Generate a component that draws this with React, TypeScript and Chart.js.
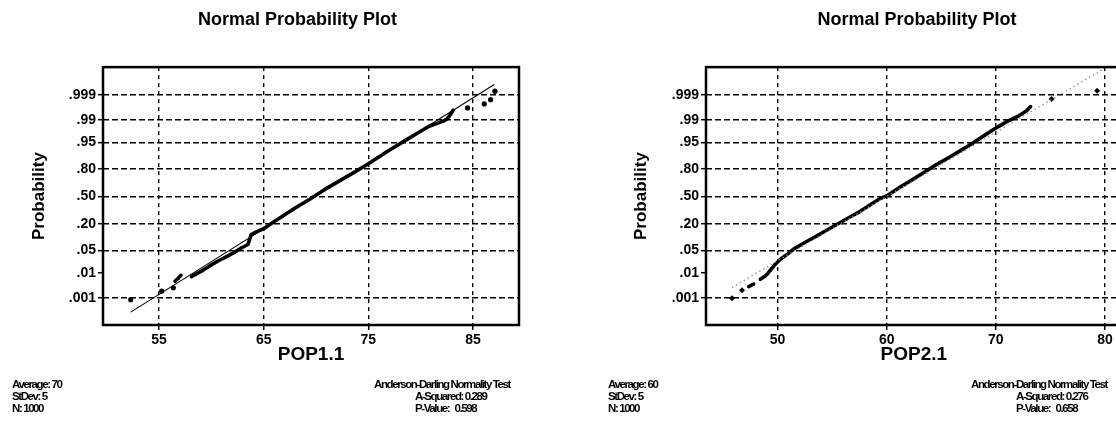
import React, { useEffect, useRef } from 'react';
import { Chart, registerables } from 'chart.js';

Chart.register(...registerables);

// ---------- shared axis data ----------
const probTicks = [0.001, 0.01, 0.05, 0.2, 0.5, 0.8, 0.95, 0.99, 0.999];
const probLabels = ['.001', '.01', '.05', '.20', '.50', '.80', '.95', '.99', '.999'];
const probNoGrid = 0.01;
const titleText = 'Normal Probability Plot';
const yTitle = 'Probability';

// ---------- left panel (POP1.1) ----------
const leftXTicks = [55, 65, 75, 85];
const leftFitX = [52.3, 87.03];
const leftFitZ = [-3.52, 3.41];
const leftRunX = [58.1, 59.0, 59.8, 60.6, 61.5, 62.2, 62.9, 63.5, 63.8, 64.4, 65.0, 65.9, 66.9, 68.0, 69.4, 70.8, 72.2, 73.6, 75.0, 76.8, 78.7, 79.8, 80.8, 81.5, 82.1, 82.5, 82.8, 83.1];
const leftRunZ = [-2.44, -2.28, -2.12, -1.97, -1.82, -1.7, -1.56, -1.46, -1.16, -1.06, -0.98, -0.78, -0.58, -0.35, -0.08, 0.21, 0.47, 0.73, 1.0, 1.37, 1.74, 1.95, 2.14, 2.22, 2.29, 2.36, 2.48, 2.63];
const leftShortX = [56.53, 56.8, 57.1];
const leftShortZ = [-2.58, -2.5, -2.4];
const leftSingleX = [52.3, 55.26, 56.37, 84.48, 86.07, 86.68, 87.09];
const leftSingleZ = [-3.14, -2.88, -2.78, 2.7, 2.82, 2.95, 3.21];
const leftStats = ['Average: 70', 'StDev: 5', 'N: 1000'];
const leftTest = ['Anderson-Darling Normality Test', 'A-Squared: 0.289', 'P-Value:   0.598'];

// ---------- right panel (POP2.1) ----------
const rightXTicks = [50, 60, 70, 80];
const rightFitX = [45.83, 79.83];
const rightFitZ = [-2.77, 3.88];
const rightRunX = [48.42, 48.87, 49.03, 49.79, 50.25, 51.0, 51.46, 52.5, 53.6, 54.7, 55.74, 56.6, 57.57, 58.5, 59.4, 60.0, 61.0, 62.14, 63.4, 64.58, 65.7, 66.72, 67.8, 68.85, 70.07, 71.0, 72.0, 72.82, 73.18];
const rightRunZ = [-2.52, -2.42, -2.37, -2.06, -1.91, -1.73, -1.6, -1.4, -1.2, -0.99, -0.79, -0.63, -0.45, -0.25, -0.06, 0.02, 0.24, 0.47, 0.73, 0.98, 1.19, 1.39, 1.61, 1.84, 2.1, 2.28, 2.44, 2.61, 2.74];
const rightShortX = [47.35, 47.8];
const rightShortZ = [-2.74, -2.67];
const rightSingleX = [45.83, 46.74, 75.1, 79.28];
const rightSingleZ = [-3.1, -2.85, 2.97, 3.22];
const rightStats = ['Average: 60', 'StDev: 5', 'N: 1000'];
const rightTest = ['Anderson-Darling Normality Test', 'A-Squared: 0.276', 'P-Value:   0.658'];

const FONT = '"Liberation Sans", Arial, Helvetica, sans-serif';

// inverse standard normal CDF (Acklam) – used for the probability-axis transform
function probit(p: number): number {
  const a = [-3.969683028665376e1, 2.209460984245205e2, -2.759285104469687e2, 1.38357751867269e2, -3.066479806614716e1, 2.506628277459239];
  const b = [-5.447609879822406e1, 1.615858368580409e2, -1.556989798598866e2, 6.680131188771972e1, -1.328068155288572e1];
  const c = [-7.784894002430293e-3, -3.223964580411365e-1, -2.400758277161838, -2.549732539343734, 4.374664141464968, 2.938163982698783];
  const d = [7.784695709041462e-3, 3.224671290700398e-1, 2.445134137142996, 3.754408661907416];
  const pl = 0.02425;
  if (p < pl) {
    const q = Math.sqrt(-2 * Math.log(p));
    return (((((c[0] * q + c[1]) * q + c[2]) * q + c[3]) * q + c[4]) * q + c[5]) / ((((d[0] * q + d[1]) * q + d[2]) * q + d[3]) * q + 1);
  }
  if (p > 1 - pl) {
    const q = Math.sqrt(-2 * Math.log(1 - p));
    return -(((((c[0] * q + c[1]) * q + c[2]) * q + c[3]) * q + c[4]) * q + c[5]) / ((((d[0] * q + d[1]) * q + d[2]) * q + d[3]) * q + 1);
  }
  const q = p - 0.5;
  const r = q * q;
  return (((((a[0] * r + a[1]) * r + a[2]) * r + a[3]) * r + a[4]) * r + a[5]) * q / (((((b[0] * r + b[1]) * r + b[2]) * r + b[3]) * r + b[4]) * r + 1);
}

type PanelCfg = {
  left: number;
  width: number;
  areaLeft: number;
  areaRightGap: number;
  yTitleCenter: number;
  xTitle: string;
  xMin: number;
  xMax: number;
  zMin: number;
  zMax: number;
  xTicks: number[];
  fitX: number[];
  fitZ: number[];
  fitColor: string;
  fitWidth: number;
  fitDash: number[];
  runs: { x: number[]; z: number[] }[];
  singleX: number[];
  singleZ: number[];
  pointStyle: string;
  pointRadius: number;
};

const boxPlugin = {
  id: 'plotBox',
  afterDatasetsDraw(chart: any) {
    const { ctx, chartArea: a } = chart;
    ctx.save();
    ctx.strokeStyle = '#000';
    ctx.lineWidth = 2.5;
    ctx.strokeRect(a.left, a.top, a.right - a.left, a.bottom - a.top);
    ctx.restore();
  },
};

function Panel({ cfg }: { cfg: PanelCfg }) {
  const ref = useRef<HTMLCanvasElement>(null);
  useEffect(() => {
    const zTicks = probTicks.map(probit);
    const skipZ = probit(probNoGrid);
    const pts = (xs: number[], zs: number[]) => xs.map((x, i) => ({ x, y: zs[i] }));
    const datasets: any[] = [
      {
        label: 'fit',
        data: pts(cfg.fitX, cfg.fitZ),
        showLine: true,
        pointRadius: 0,
        borderColor: cfg.fitColor,
        borderWidth: cfg.fitWidth,
        borderDash: cfg.fitDash,
        order: 0,
      },
      ...cfg.runs.map((r) => ({
        label: 'data',
        data: pts(r.x, r.z),
        showLine: true,
        pointRadius: 0,
        borderColor: '#000',
        borderWidth: 3.6,
        borderCapStyle: 'round',
        borderJoinStyle: 'round',
        order: 1,
      })),
      {
        label: 'points',
        data: pts(cfg.singleX, cfg.singleZ),
        showLine: false,
        pointRadius: cfg.pointRadius,
        pointStyle: cfg.pointStyle,
        backgroundColor: '#000',
        borderColor: '#000',
        borderWidth: 0,
        order: 1,
      },
    ];
    const chart = new Chart(ref.current as HTMLCanvasElement, {
      type: 'scatter',
      data: { datasets },
      plugins: [boxPlugin],
      options: {
        responsive: false,
        animation: false,
        devicePixelRatio: 1,
        layout: { padding: 0 },
        plugins: {
          legend: { display: false },
          tooltip: { enabled: false },
          title: {
            display: true,
            text: titleText,
            color: '#000',
            font: { family: FONT, size: 18, weight: 'bold' },
            padding: { top: 9.5, bottom: 36 },
          },
        },
        scales: {
          x: {
            type: 'linear',
            min: cfg.xMin,
            max: cfg.xMax,
            afterBuildTicks: (s: any) => {
              s.ticks = cfg.xTicks.map((v) => ({ value: v }));
            },
            afterFit: (s: any) => {
              s.height = 96;
            },
            ticks: {
              color: '#000',
              font: { family: FONT, size: 14, weight: 'bold' },
              padding: 2,
              maxRotation: 0,
              autoSkip: false,
            },
            grid: {
              color: '#000',
              lineWidth: 1.4,
              tickColor: '#000',
              tickLength: 5,
              tickWidth: 1.5,
              tickBorderDash: [],
            },
            border: { display: false, dash: [4, 4] },
            title: {
              display: true,
              text: cfg.xTitle,
              color: '#000',
              font: { family: FONT, size: 19, weight: 'bold' },
              padding: { top: 0, bottom: 54.6 },
            },
          },
          y: {
            type: 'linear',
            min: cfg.zMin,
            max: cfg.zMax,
            afterBuildTicks: (s: any) => {
              s.ticks = zTicks.map((v) => ({ value: v }));
            },
            afterFit: (s: any) => {
              s.width = cfg.areaLeft;
            },
            ticks: {
              color: '#000',
              font: { family: FONT, size: 14, weight: 'bold' },
              padding: 2,
              autoSkip: false,
              callback: (_v: any, i: number) => probLabels[i],
            },
            grid: {
              color: (ctx: any) =>
                ctx.tick && Math.abs(ctx.tick.value - skipZ) < 1e-6 ? 'rgba(0,0,0,0)' : '#000',
              lineWidth: 1.4,
              tickColor: '#000',
              tickLength: 5,
              tickWidth: 1.5,
              tickBorderDash: [],
            },
            border: { display: false, dash: [6, 3] },
            title: {
              display: true,
              text: yTitle,
              color: '#000',
              font: { family: FONT, size: 17, weight: 'bold' },
              padding: { top: cfg.yTitleCenter - 10.2, bottom: 0 },
            },
          },
          // empty right-hand gutter so the title centres on the whole panel
          gutter: {
            type: 'linear',
            position: 'right',
            display: true,
            min: 0,
            max: 1,
            afterFit: (s: any) => {
              s.width = cfg.areaRightGap;
            },
            ticks: { display: false },
            grid: { display: false, drawTicks: false },
            border: { display: false },
            title: { display: false },
          },
        },
      } as any,
    });
    return () => chart.destroy();
  }, []);
  return (
    <canvas
      ref={ref}
      width={cfg.width}
      height={421}
      style={{ position: 'absolute', left: cfg.left, top: 0, width: cfg.width, height: 421, display: 'block' }}
    />
  );
}

const leftCfg: PanelCfg = {
  left: 0,
  width: 595,
  areaLeft: 103,
  areaRightGap: 76,
  yTitleCenter: 39,
  xTitle: 'POP1.1',
  xMin: 49.65,
  xMax: 89.39,
  zMin: -3.912,
  zMax: 3.942,
  xTicks: leftXTicks,
  fitX: leftFitX,
  fitZ: leftFitZ,
  fitColor: '#000',
  fitWidth: 1.1,
  fitDash: [],
  runs: [
    { x: leftRunX, z: leftRunZ },
    { x: leftShortX, z: leftShortZ },
  ],
  singleX: leftSingleX,
  singleZ: leftSingleZ,
  pointStyle: 'circle',
  pointRadius: 2.6,
};

const rightCfg: PanelCfg = {
  left: 600,
  width: 634,
  areaLeft: 106,
  areaRightGap: 112.4,
  yTitleCenter: 41.6,
  xTitle: 'POP2.1',
  xMin: 43.44,
  xMax: 81.52,
  zMin: -3.912,
  zMax: 3.942,
  xTicks: rightXTicks,
  fitX: rightFitX,
  fitZ: rightFitZ,
  fitColor: '#8a8a8a',
  fitWidth: 1.2,
  fitDash: [1.5, 3],
  runs: [
    { x: rightRunX, z: rightRunZ },
    { x: rightShortX, z: rightShortZ },
  ],
  singleX: rightSingleX,
  singleZ: rightSingleZ,
  pointStyle: 'rectRot',
  pointRadius: 3,
};

const noteStyle: React.CSSProperties = {
  position: 'absolute',
  top: 379,
  fontFamily: FONT,
  fontWeight: 'bold',
  fontSize: 11.5,
  lineHeight: '11.8px',
  letterSpacing: '-1.4px',
  color: '#000',
  whiteSpace: 'pre',
};

function Notes({ x, lines, align }: { x: number; lines: string[]; align?: number }) {
  return (
    <div style={{ ...noteStyle, left: x }}>
      {lines.map((l, i) => (
        <div key={i} style={{ paddingLeft: i > 0 && align ? align : 0 }}>
          {l}
        </div>
      ))}
    </div>
  );
}

export default function App() {
  return (
    <div
      style={{
        position: 'fixed',
        left: 0,
        top: 0,
        width: 1116,
        height: 421,
        overflow: 'hidden',
        background: '#fff',
      }}
    >
      <Panel cfg={leftCfg} />
      <Panel cfg={rightCfg} />
      <Notes x={12} lines={leftStats} />
      <Notes x={374} lines={leftTest} align={41} />
      <Notes x={608} lines={rightStats} />
      <Notes x={971} lines={rightTest} align={45} />
    </div>
  );
}
